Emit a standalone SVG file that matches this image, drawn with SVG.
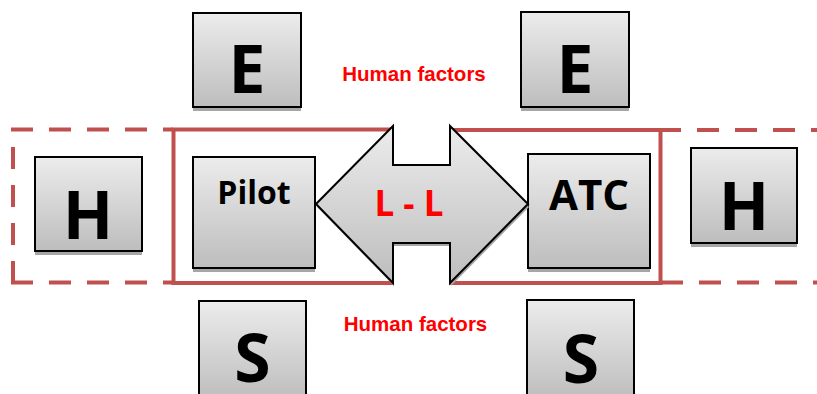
<svg xmlns="http://www.w3.org/2000/svg" width="817" height="394" viewBox="0 0 817 394">
<defs>
<linearGradient id="g" x1="0" y1="0" x2="0" y2="1">
<stop offset="0" stop-color="#ECECEC"/>
<stop offset="1" stop-color="#BDBDBD"/>
</linearGradient>
<style>
.box{fill:url(#g);stroke:#000;stroke-width:2}
.sh{fill:#A6A6A6}
.big{font-family:"Open Sans","DejaVu Sans",sans-serif;font-weight:bold;font-size:66px;fill:#000;text-anchor:middle}
.lbl{font-family:"Open Sans","DejaVu Sans",sans-serif;font-weight:bold;fill:#000;text-anchor:middle}
.hf{font-family:"Liberation Sans",Arial,sans-serif;font-weight:bold;font-size:20.5px;fill:#FF0000;text-anchor:middle}
.dash{fill:none;stroke:#C0504D;stroke-width:4;stroke-dasharray:22 16}
.solid{fill:none;stroke:#C0504D;stroke-width:4}
</style>
</defs>
<rect width="817" height="394" fill="#FFFFFF"/>
<g id="frames">
<path class="dash" d="M11,129.5 H173"/>
<path class="dash" d="M13,147 V283"/>
<path class="dash" d="M11,282.5 H173"/>
<path class="dash" d="M659,130 H817"/>
<path class="dash" d="M661,282.5 H817"/>
<path class="solid" d="M660.5,130 H450 M393,129.5 H173.5 V283 H393 M450,283 H660.5 V128"/>
</g>
<g id="E1"><rect class="sh" x="193" y="17" width="108" height="94"/><rect class="box" x="193" y="13" width="108" height="94"/><text class="big" x="247" y="93">E</text></g>
<g id="E2"><rect class="sh" x="521" y="16" width="108" height="95"/><rect class="box" x="521" y="12" width="108" height="95"/><text class="big" x="575" y="93">E</text></g>
<g id="H1"><rect class="sh" x="35" y="161" width="107" height="94"/><rect class="box" x="35" y="157" width="107" height="94"/><text class="big" x="88" y="239">H</text></g>
<g id="H2"><rect class="sh" x="691" y="152" width="106" height="95"/><rect class="box" x="691" y="148" width="106" height="95"/><text class="big" x="744" y="230">H</text></g>
<g id="Pilot"><rect class="sh" x="193" y="161" width="122" height="111"/><rect class="box" x="193" y="157" width="122" height="111"/><text class="lbl" x="254" y="204" font-size="32">Pilot</text></g>
<g id="ATC"><rect class="sh" x="528" y="158" width="122" height="114"/><rect class="box" x="528" y="154" width="122" height="114"/><text class="lbl" x="589" y="210" font-size="42">ATC</text></g>
<g id="S1"><rect class="box" x="199" y="301" width="107" height="100"/><text class="big" x="252.5" y="382">S</text></g>
<g id="S2"><rect class="box" x="527" y="300" width="107" height="100"/><text class="big" x="581" y="383">S</text></g>
<g id="connectors">
<polygon class="sh" points="317,207 394,129 394,168 451,168 451,129 529,207 451,286 451,246 394,246 394,286"/>
<polygon class="box" points="316,204 393,126 393,165 450,165 450,126 528,204 450,283 450,243 393,243 393,283"/>
<text class="lbl" x="409" y="216" font-size="35" style="fill:#FF0000">L - L</text>
</g>
<g id="labels">
<text class="hf" x="414" y="81">Human factors</text>
<text class="hf" x="415.5" y="331">Human factors</text>
</g>
</svg>
